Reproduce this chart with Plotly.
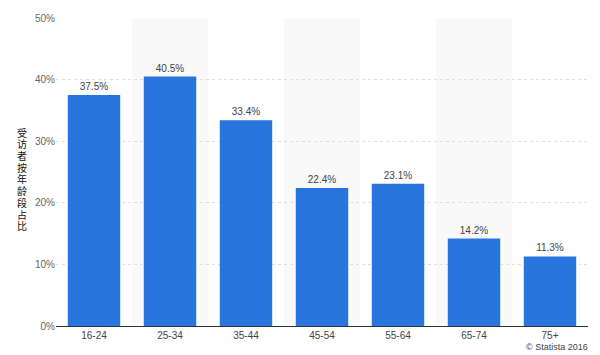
import plotly.graph_objects as go

categories = ["16-24", "25-34", "35-44", "45-54", "55-64", "65-74", "75+"]
values = [37.5, 40.5, 33.4, 22.4, 23.1, 14.2, 11.3]
y_ticks = [0, 10, 20, 30, 40, 50]
y_tick_labels = ["0%", "10%", "20%", "30%", "40%", "50%"]
y_title = "受访者按年龄段占比"
credit = "© Statista 2016"

FONT = "Liberation Sans, Arial, sans-serif"
PLOT_H = 355 - 16 - 29

fig = go.Figure()
fig.add_trace(go.Bar(
    x=list(range(len(categories))),
    y=values,
    width=0.69,
    marker=dict(color="#2876dd", line=dict(width=0)),
    text=[f"{v:.1f}%" for v in values],
    textposition="outside",
    textfont=dict(family=FONT, size=10, color="#444444"),
    cliponaxis=False,
    hoverinfo="skip",
))

shapes = []
for i in range(len(categories)):
    if i % 2 == 1:
        shapes.append(dict(type="rect", xref="x", yref="y", x0=i - 0.5, x1=i + 0.5,
                           y0=0, y1=50, fillcolor="#f9f9f9", line=dict(width=0), layer="below"))

annotations = []
chars = list(y_title)
center_px = 178  # vertical center of the title in page pixels
step = 11.8
for k, ch in enumerate(chars):
    ypx = center_px + (k - (len(chars) - 1) / 2) * step
    annotations.append(dict(
        text=ch, xref="paper", yref="paper",
        x=(22 - 56) / 532, y=(326 - ypx) / PLOT_H,
        xanchor="center", yanchor="middle", showarrow=False,
        font=dict(family="Noto Sans CJK SC", size=10, color="#111111"),
    ))
annotations.append(dict(
    text=credit, xref="paper", yref="paper", x=(590 - 56) / 532, y=(326 - 347) / PLOT_H,
    xanchor="right", yanchor="middle", showarrow=False,
    font=dict(family=FONT, size=9, color="#444444")))

fig.update_layout(
    width=600, height=355,
    margin=dict(l=56, r=12, t=16, b=29),
    paper_bgcolor="white", plot_bgcolor="white",
    showlegend=False,
    shapes=shapes,
    xaxis=dict(
        tickmode="array", tickvals=list(range(len(categories))), ticktext=categories,
        range=[-0.5, len(categories) - 0.5],
        showgrid=False, showline=True, linecolor="#333333", linewidth=1,
        ticks="", tickfont=dict(family=FONT, size=10, color="#444444"),
        zeroline=False,
    ),
    yaxis=dict(
        range=[0, 50], tickmode="array", tickvals=y_ticks, ticktext=y_tick_labels,
        showgrid=True, gridcolor="#e0e0e0", griddash="dot", gridwidth=1,
        zeroline=False, showline=False, ticks="",
        tickfont=dict(family=FONT, size=10, color="#666666"),
    ),
    annotations=annotations,
)

fig.write_html("out.html")
